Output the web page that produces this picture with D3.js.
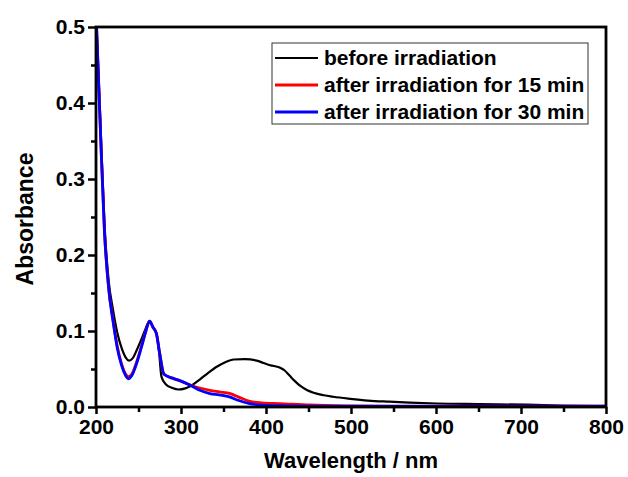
<!DOCTYPE html>
<html>
<head>
<meta charset="utf-8">
<script src="https://cdn.jsdelivr.net/npm/d3@7"></script>
<style>
  body { margin: 0; background: #fff; }
  svg { display: block; }
  text { font-family: "Liberation Sans", Arial, sans-serif; font-weight: bold; fill: #000; }
</style>
</head>
<body>
<svg id="chart" width="628" height="477"></svg>
<script>
// ---- Data ----
const seriesNames = ["before irradiation", "after irradiation for 15 min", "after irradiation for 30 min"];
const seriesColors = ["#000000", "#ff0000", "#0000ff"];

const beforeWl = [200,205,210,215,220,225,230,235,239,243,248,253,258,263,267,271,274,277,282,290,297,305,312,322,332,342,352,362,375,389,397,405,416,422,428,434,440,448,456,468,479,499,520,545,569,601,650,707,750,800];
const beforeAbs = [0.52,0.38,0.24,0.165,0.128,0.098,0.078,0.065,0.061,0.064,0.075,0.088,0.102,0.113,0.105,0.097,0.075,0.040,0.030,0.025,0.023,0.0245,0.028,0.036,0.045,0.053,0.059,0.0625,0.063,0.061,0.058,0.055,0.052,0.048,0.041,0.034,0.028,0.0225,0.0188,0.0155,0.0135,0.0108,0.0085,0.0070,0.0058,0.0046,0.0038,0.003,0.002,0.0015];

const min15Wl = [200,205,210,215,220,225,230,235,238,242,248,253,258,263,267,271,275,280,290,300,311,322,334,345,358,368,381,395,416,452,500,550,800];
const min15Abs = [0.52,0.37,0.23,0.155,0.115,0.080,0.057,0.043,0.040,0.043,0.060,0.078,0.098,0.113,0.105,0.097,0.070,0.043,0.038,0.034,0.029,0.025,0.022,0.020,0.0177,0.013,0.0075,0.0055,0.0045,0.0026,0.0015,0.001,0.001];

const min30Wl = [200,205,210,215,220,225,230,235,238,242,248,253,258,263,267,271,275,280,290,300,311,322,334,345,358,368,381,400,450,800];
const min30Abs = [0.52,0.37,0.23,0.155,0.113,0.078,0.055,0.041,0.037,0.041,0.058,0.077,0.097,0.113,0.105,0.097,0.070,0.043,0.038,0.034,0.0286,0.022,0.0177,0.016,0.013,0.0085,0.0045,0.002,0.0012,0.0008];

const xTicks = [200,300,400,500,600,700,800];
const yTicks = [0.0,0.1,0.2,0.3,0.4,0.5];
const xLabel = "Wavelength / nm";
const yLabel = "Absorbance";

// ---- Layout ----
const svg = d3.select("#chart");
const mLeft = 96, mRight = 606, mTop = 27, mBottom = 407;

const x = d3.scaleLinear().domain([200, 800]).range([mLeft, mRight]);
const y = d3.scaleLinear().domain([0, 0.5]).range([mBottom, mTop]);

svg.append("defs").append("clipPath").attr("id", "clip")
  .append("rect").attr("x", mLeft).attr("y", mTop).attr("width", mRight - mLeft).attr("height", mBottom - mTop);

const series = [
  { name: seriesNames[0], color: seriesColors[0], wl: beforeWl, abs: beforeAbs, w: 2.2 },
  { name: seriesNames[1], color: seriesColors[1], wl: min15Wl, abs: min15Abs, w: 2.8 },
  { name: seriesNames[2], color: seriesColors[2], wl: min30Wl, abs: min30Abs, w: 2.8 }
];

const line = d3.line().x(d => x(d[0])).y(d => y(d[1])).curve(d3.curveMonotoneX);

const g = svg.append("g").attr("clip-path", "url(#clip)");
series.forEach(s => {
  g.append("path")
    .datum(s.wl.map((w, i) => [w, s.abs[i]]))
    .attr("fill", "none")
    .attr("stroke", s.color)
    .attr("stroke-width", s.w)
    .attr("stroke-linejoin", "round")
    .attr("d", line);
});

// ---- Axes ----
const xAxis = d3.axisBottom(x).tickValues(xTicks).tickFormat(d3.format("d")).tickSizeInner(7).tickSizeOuter(0).tickPadding(5);
const yAxis = d3.axisLeft(y).tickValues(yTicks).tickFormat(d3.format(".1f")).tickSizeInner(8).tickSizeOuter(0).tickPadding(3);

const gx = svg.append("g").attr("transform", `translate(0,${mBottom})`).call(xAxis);
const gy = svg.append("g").attr("transform", `translate(${mLeft},0)`).call(yAxis);

// minor ticks
const xMinor = d3.axisBottom(x).tickValues([250,350,450,550,650,750]).tickFormat("").tickSizeInner(5).tickSizeOuter(0);
const yMinor = d3.axisLeft(y).tickValues([0.05,0.15,0.25,0.35,0.45]).tickFormat("").tickSizeInner(5).tickSizeOuter(0);
const gxm = svg.append("g").attr("transform", `translate(0,${mBottom})`).call(xMinor);
const gym = svg.append("g").attr("transform", `translate(${mLeft},0)`).call(yMinor);

[gx, gy, gxm, gym].forEach(a => {
  a.select(".domain").remove();
  a.selectAll("line").attr("stroke", "#000").attr("stroke-width", 2.5);
});
[gx, gy].forEach(a => {
  a.selectAll("text").style("font-size", "21px").style("font-family", "'Liberation Sans', Arial, sans-serif").style("font-weight", "bold").attr("fill", "#000");
});

// frame
svg.append("rect").attr("x", mLeft).attr("y", mTop).attr("width", mRight - mLeft).attr("height", mBottom - mTop)
  .attr("fill", "none").attr("stroke", "#000").attr("stroke-width", 2.8);

// axis titles
svg.append("text").attr("x", (mLeft + mRight) / 2).attr("y", 468).attr("text-anchor", "middle")
  .style("font-size", "22px").text(xLabel);
svg.append("text").attr("transform", `translate(33,${(mTop + mBottom) / 2 + 2}) rotate(-90)`).attr("text-anchor", "middle")
  .style("font-size", "23px").text(yLabel);

// legend
const lg = svg.append("g");
lg.append("rect").attr("x", 272).attr("y", 43).attr("width", 316).attr("height", 81)
  .attr("fill", "#fff").attr("stroke", "#333").attr("stroke-width", 1);
const rowY = [58, 85, 112];
series.forEach((s, i) => {
  lg.append("line").attr("x1", 275).attr("x2", 318).attr("y1", rowY[i]).attr("y2", rowY[i])
    .attr("stroke", s.color).attr("stroke-width", s.w);
  lg.append("text").attr("x", 324).attr("y", rowY[i] + 7).style("font-size", "21px").text(s.name);
});
</script>
</body>
</html>
